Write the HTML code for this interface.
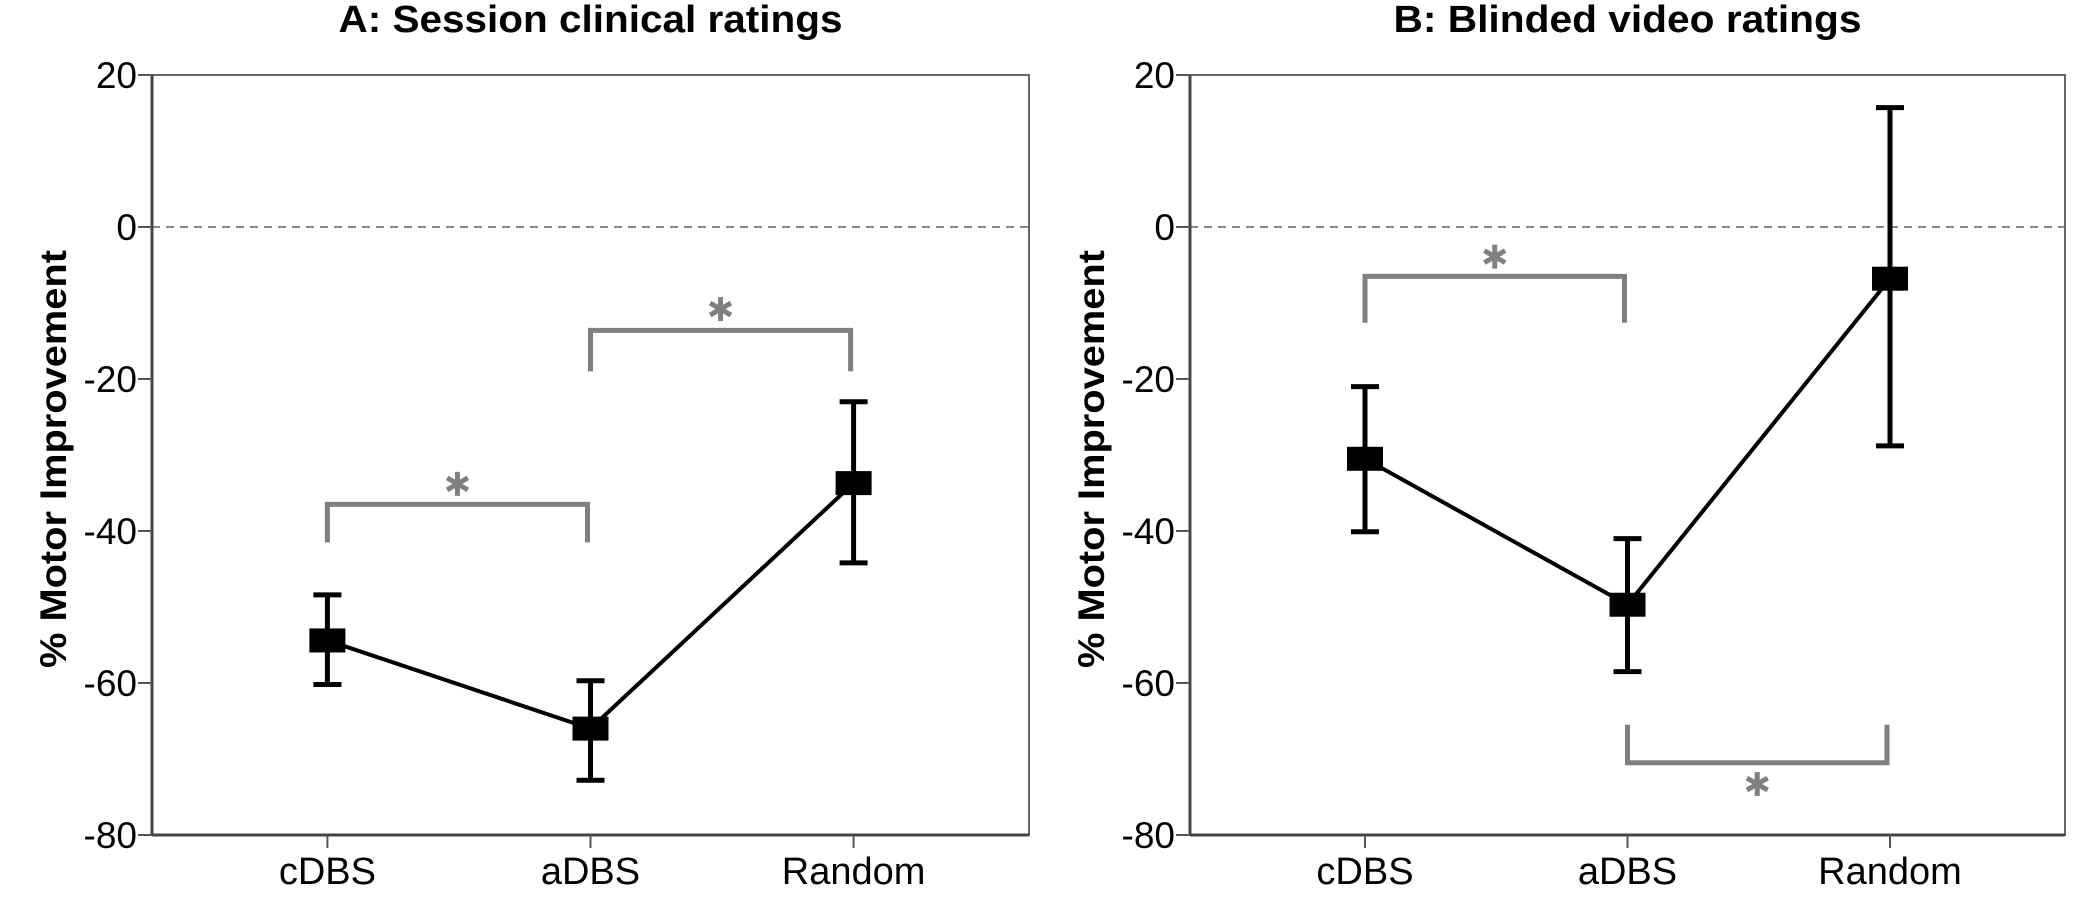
<!DOCTYPE html>
<html><head><meta charset="utf-8"><style>
html,body{margin:0;padding:0;background:#fff;}
svg{display:block;font-family:"Liberation Sans",Arial,sans-serif;}
</style></head><body>
<svg id="chart" width="2075" height="907" viewBox="0 0 2075 907" xmlns="http://www.w3.org/2000/svg"></svg>
<script>
const categories = ["cDBS", "aDBS", "Random"];
const yTicks = [20, 0, -20, -40, -60, -80];
const titles = ["A: Session clinical ratings", "B: Blinded video ratings"];
const meansA = [-54.4, -66.0, -33.7];
const upperA = [-48.4, -59.7, -23.0];
const lowerA = [-60.2, -72.8, -44.2];
const meansB = [-30.5, -49.7, -6.8];
const upperB = [-21.0, -41.0, 15.7];
const lowerB = [-40.1, -58.5, -28.8];
// brackets: [fromIndex, toIndex, barValue, legEndValue, starValue]
const bracketsA = [[0, 1, -36.5, -41.5, -33.8], [1, 2, -13.6, -19.0, -10.8]];
const bracketsB = [[0, 1, -6.5, -12.6, -3.9], [1, 2, -70.5, -65.5, -73.3]];

const svg = document.getElementById('chart');
const NS = 'http://www.w3.org/2000/svg';
function mk(tag, attrs, parent) {
  const e = document.createElementNS(NS, tag);
  for (const k in attrs) e.setAttribute(k, attrs[k]);
  (parent || svg).appendChild(e);
  return e;
}
const top_ = 75, bottom = 835, yMax = 20, yMin = -80;
function yScale(v) { return top_ + (yMax - v) / (yMax - yMin) * (bottom - top_); }

function panel(left, right, title, means, upper, lower, brackets, key, titleLen) {
  const g = mk('g', {});
  
  
  const w = right - left;
  const xScale = i => left + w * (0.2 + 0.3 * i);
  const t = mk('text', {x: (left + right) / 2, y: 32, 'text-anchor': 'middle', 'font-size': 38, 'font-weight': 'bold', fill: '#000', textLength: titleLen, lengthAdjust: 'spacingAndGlyphs'}, g);
  t.textContent = title;
  
  
  const z = mk('line', {x1: left, x2: right, y1: yScale(0), y2: yScale(0), stroke: '#888', 'stroke-width': 2, 'stroke-dasharray': '8,6'}, g);
  
  
  const f = mk('rect', {x: left, y: top_, width: w, height: bottom - top_, fill: 'none', stroke: '#666', 'stroke-width': 2}, g);
  
  
  mk('line', {x1: left, x2: left, y1: top_, y2: bottom, stroke: '#444', 'stroke-width': 3}, g);
  mk('line', {x1: left, x2: right, y1: bottom, y2: bottom, stroke: '#444', 'stroke-width': 3}, g);
  yTicks.forEach(v => {
    const y = yScale(v);
    mk('line', {x1: left - 14, x2: left, y1: y, y2: y, stroke: '#555', 'stroke-width': 2}, g);
    const tl = mk('text', {x: left - 15, y: y + 13, 'text-anchor': 'end', 'font-size': 37, fill: '#000'}, g);
    tl.textContent = v;
    
    
  });
  const yt = mk('text', {x: 0, y: 0, 'text-anchor': 'middle', 'font-size': 37, 'font-weight': 'bold', fill: '#000', textLength: 418, lengthAdjust: 'spacingAndGlyphs', transform: `translate(${left - 86},459) rotate(-90)`}, g);
  yt.textContent = '% Motor Improvement';
  
  
  categories.forEach((c, i) => {
    const x = xScale(i);
    mk('line', {x1: x, x2: x, y1: bottom, y2: bottom + 13, stroke: '#555', 'stroke-width': 2}, g);
    const xl = mk('text', {x: x, y: 884, 'text-anchor': 'middle', 'font-size': 38, fill: '#000'}, g);
    xl.textContent = c;
    
    
  });
  brackets.forEach(b => {
    const x1 = xScale(b[0]), x2 = xScale(b[1]) - 3;
    const yb = yScale(b[2]), yl = yScale(b[3]);
    const p = mk('path', {d: `M${x1},${yl} L${x1},${yb} L${x2},${yb} L${x2},${yl}`, fill: 'none', stroke: '#808080', 'stroke-width': 5}, g);
    
    
    const cx = (x1 + x2) / 2, cy = yScale(b[4]), r = 12;
    const sg = mk('g', {stroke: '#808080', 'stroke-width': 5}, g);
    
    
    [90, 30, 150].forEach(a => {
      const dx = r * Math.cos(a * Math.PI / 180), dy = r * Math.sin(a * Math.PI / 180);
      mk('line', {x1: cx - dx, y1: cy - dy, x2: cx + dx, y2: cy + dy}, sg);
    });
  });
  const pts = means.map((m, i) => xScale(i) + ',' + yScale(m)).join(' ');
  const pl = mk('polyline', {points: pts, fill: 'none', stroke: '#000', 'stroke-width': 4}, g);
  
  
  means.forEach((m, i) => {
    const x = xScale(i);
    const eg = mk('g', {stroke: '#000', 'stroke-width': 5}, g);
    
    
    mk('line', {x1: x, x2: x, y1: yScale(upper[i]), y2: yScale(lower[i])}, eg);
    mk('line', {x1: x - 14, x2: x + 14, y1: yScale(upper[i]), y2: yScale(upper[i])}, eg);
    mk('line', {x1: x - 14, x2: x + 14, y1: yScale(lower[i]), y2: yScale(lower[i])}, eg);
    const sq = mk('rect', {x: x - 18, y: yScale(m) - 12, width: 36, height: 24, fill: '#000'}, g);
    
    
  });
}
panel(152, 1029, titles[0], meansA, upperA, lowerA, bracketsA, 'a', 504);
panel(1190, 2065, titles[1], meansB, upperB, lowerB, bracketsB, 'b', 468);
</script>
</body></html>
